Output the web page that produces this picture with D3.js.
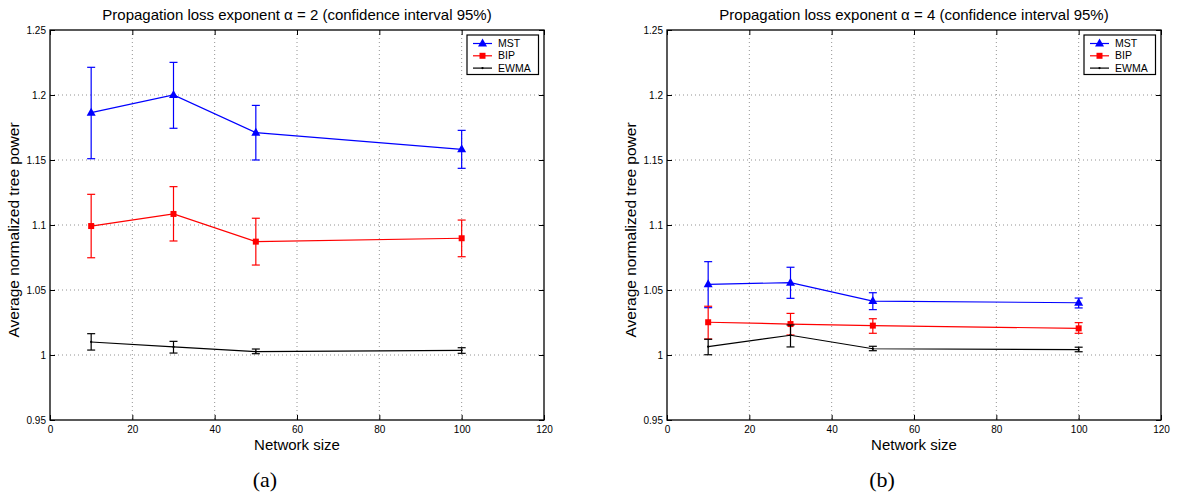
<!DOCTYPE html>
<html>
<head>
<meta charset="utf-8">
<script src="https://cdn.jsdelivr.net/npm/d3@7"></script>
<style>
  body { margin: 0; background: #fff; }
  svg { display: block; }
</style>
</head>
<body>
<div id="chart-area"></div>
<script>
// network sizes on the x axis
const sizes = [10, 30, 50, 100];

// (a) alpha = 2 : mean, lower and upper end of 95% interval
const mstA = [1.1864, 1.2, 1.171, 1.1582];
const mstALo = [1.151, 1.1744, 1.15, 1.1436];
const mstAHi = [1.2213, 1.2251, 1.192, 1.1728];
const bipA = [1.0992, 1.1085, 1.0872, 1.0898];
const bipALo = [1.0748, 1.0877, 1.0692, 1.0756];
const bipAHi = [1.1236, 1.1295, 1.1052, 1.1038];
const ewmaA = [1.01, 1.0062, 1.0026, 1.0036];
const ewmaALo = [1.0038, 1.0015, 1.001, 1.0013];
const ewmaAHi = [1.0164, 1.0105, 1.0046, 1.0056];

// (b) alpha = 4
const mstB = [1.0544, 1.0556, 1.0415, 1.0402];
const mstBLo = [1.0364, 1.0436, 1.0349, 1.0362];
const mstBHi = [1.0718, 1.0675, 1.0479, 1.0438];
const bipB = [1.0252, 1.0238, 1.0226, 1.0205];
const bipBLo = [1.0123, 1.0154, 1.0167, 1.0167];
const bipBHi = [1.0375, 1.032, 1.0279, 1.0249];
const ewmaB = [1.0064, 1.0152, 1.0048, 1.0041];
const ewmaBLo = [1.0002, 1.0062, 1.0033, 1.0025];
const ewmaBHi = [1.0121, 1.0231, 1.0067, 1.006];

const xTicks = [0, 20, 40, 60, 80, 100, 120];
const yTicks = [0.95, 1, 1.05, 1.1, 1.15, 1.2, 1.25];
const yTickLabels = ["0.95", "1", "1.05", "1.1", "1.15", "1.2", "1.25"];
const seriesNames = ["MST", "BIP", "EWMA"];
const seriesColors = ["#0000ff", "#ff0000", "#000000"];

const SANS = "Arial, 'Liberation Sans', Helvetica, sans-serif";
const SERIF = "'Times New Roman', 'Liberation Serif', serif";

const W = 1181, H = 498;
const PLOT = { TOP: 30, WIDTH: 494, HEIGHT: 390 };

const svg = d3.select("#chart-area").append("svg")
  .attr("width", W)
  .attr("height", H)

function panel(left, title, caption, series) {
  const g = svg.append("g")
    .attr("transform", `translate(${left}, ${PLOT.TOP})`)

  const x = d3.scaleLinear().domain([0, 120]).range([0, PLOT.WIDTH])
  const y = d3.scaleLinear().domain([0.95, 1.25]).range([PLOT.HEIGHT, 0])

  // dotted grid
  g.selectAll(".gx").data(xTicks.slice(1, -1)).enter().append("line")
    .attr("x1", d => x(d)).attr("x2", d => x(d))
    .attr("y1", 0).attr("y2", PLOT.HEIGHT)
    .attr("stroke", "#777").attr("stroke-width", 0.8)
    .attr("stroke-dasharray", "1,3")
  g.selectAll(".gy").data(yTicks.slice(1, -1)).enter().append("line")
    .attr("y1", d => y(d)).attr("y2", d => y(d))
    .attr("x1", 0).attr("x2", PLOT.WIDTH)
    .attr("stroke", "#777").attr("stroke-width", 0.8)
    .attr("stroke-dasharray", "1,3")

  // axes, ticks pointing inwards on all four sides
  const fmtY = (d, i) => yTickLabels[i]
  const bottom = g.append("g")
    .attr("transform", `translate(0, ${PLOT.HEIGHT})`)
    .call(d3.axisBottom(x).tickValues(xTicks).tickFormat(d3.format("d"))
      .tickSizeInner(-5).tickSizeOuter(0).tickPadding(6))
  const leftAx = g.append("g")
    .call(d3.axisLeft(y).tickValues(yTicks).tickFormat(fmtY)
      .tickSizeInner(-5).tickSizeOuter(0).tickPadding(4))
  const top = g.append("g")
    .call(d3.axisTop(x).tickValues(xTicks).tickFormat("")
      .tickSizeInner(-5).tickSizeOuter(0))
  const right = g.append("g")
    .attr("transform", `translate(${PLOT.WIDTH}, 0)`)
    .call(d3.axisRight(y).tickValues(yTicks).tickFormat("")
      .tickSizeInner(-5).tickSizeOuter(0))
  for (const a of [bottom, leftAx, top, right]) {
    a.select(".domain").remove()
    a.selectAll("text").attr("font-family", SANS).attr("font-size", 10).attr("fill", "#000")
    a.selectAll("line").attr("stroke", "#000")
  }

  g.append("rect")
    .attr("width", PLOT.WIDTH).attr("height", PLOT.HEIGHT)
    .attr("fill", "none").attr("stroke", "#000").attr("stroke-width", 1.3)

  const lineGen = d3.line()
    .x(d => x(d.size))
    .y(d => y(d.v))

  series.forEach((s, k) => {
    const pts = sizes.map((sz, i) => ({ size: sz, v: s.v[i], lo: s.lo[i], hi: s.hi[i] }))
    const col = seriesColors[k]
    const sg = g.append("g")
    sg.append("path").datum(pts)
      .attr("fill", "none").attr("stroke", col).attr("stroke-width", 1.2)
      .attr("d", lineGen)
    const eb = sg.selectAll(".eb").data(pts).enter().append("g")
      .attr("stroke", col).attr("stroke-width", 1.2)
    eb.append("line")
      .attr("x1", d => x(d.size)).attr("x2", d => x(d.size))
      .attr("y1", d => y(d.lo)).attr("y2", d => y(d.hi))
    eb.append("line")
      .attr("x1", d => x(d.size) - 4).attr("x2", d => x(d.size) + 4)
      .attr("y1", d => y(d.lo)).attr("y2", d => y(d.lo))
    eb.append("line")
      .attr("x1", d => x(d.size) - 4).attr("x2", d => x(d.size) + 4)
      .attr("y1", d => y(d.hi)).attr("y2", d => y(d.hi))
    sg.selectAll(".mk").data(pts).enter().append("path")
      .attr("transform", d => `translate(${x(d.size)}, ${y(d.v)})`)
      .attr("d", marker(k))
      .attr("fill", col)
  })

  // legend
  const lg = g.append("g").attr("transform", `translate(${PLOT.WIDTH - 77}, 5)`)
  lg.append("rect")
    .attr("width", 71.5).attr("height", 39.5)
    .attr("fill", "#fff").attr("stroke", "#000").attr("stroke-width", 1.2)
  seriesNames.forEach((name, k) => {
    const yy = 8.5 + k * 12.3
    lg.append("line")
      .attr("x1", 6).attr("x2", 25).attr("y1", yy).attr("y2", yy)
      .attr("stroke", seriesColors[k]).attr("stroke-width", 1.2)
    lg.append("path")
      .attr("transform", `translate(15.5, ${yy})`)
      .attr("d", marker(k))
      .attr("fill", seriesColors[k])
    lg.append("text")
      .attr("x", 31).attr("y", yy + 3.6)
      .attr("font-family", SANS).attr("font-size", 10.5)
      .text(name)
  })

  // titles
  g.append("text")
    .attr("x", PLOT.WIDTH / 2).attr("y", -10)
    .attr("text-anchor", "middle")
    .attr("font-family", SANS).attr("font-size", 15)
    .text(title)
  g.append("text")
    .attr("x", PLOT.WIDTH / 2).attr("y", PLOT.HEIGHT + 30)
    .attr("text-anchor", "middle")
    .attr("font-family", SANS).attr("font-size", 15)
    .text("Network size")
  g.append("text")
    .attr("transform", `translate(-31, ${PLOT.HEIGHT / 2 + 5}) rotate(-90)`)
    .attr("text-anchor", "middle")
    .attr("font-family", SANS).attr("font-size", 15.5)
    .text("Average normalized tree power")
  g.append("text")
    .attr("x", PLOT.WIDTH / 2 - 32).attr("y", PLOT.HEIGHT + 67)
    .attr("text-anchor", "middle")
    .attr("font-family", SERIF).attr("font-size", 22)
    .text(caption)
}

function marker(k) {
  if (k === 0) return "M0,-5L4.5,3L-4.5,3Z"
  if (k === 1) return "M-3,-3H3V3H-3Z"
  return d3.symbol(d3.symbolCircle, 4)()
}

panel(50, "Propagation loss exponent \u03b1 = 2 (confidence interval 95%)", "(a)",
  [{ v: mstA, lo: mstALo, hi: mstAHi },
   { v: bipA, lo: bipALo, hi: bipAHi },
   { v: ewmaA, lo: ewmaALo, hi: ewmaAHi }])

panel(667, "Propagation loss exponent \u03b1 = 4 (confidence interval 95%)", "(b)",
  [{ v: mstB, lo: mstBLo, hi: mstBHi },
   { v: bipB, lo: bipBLo, hi: bipBHi },
   { v: ewmaB, lo: ewmaBLo, hi: ewmaBHi }])
</script>
</body>
</html>
